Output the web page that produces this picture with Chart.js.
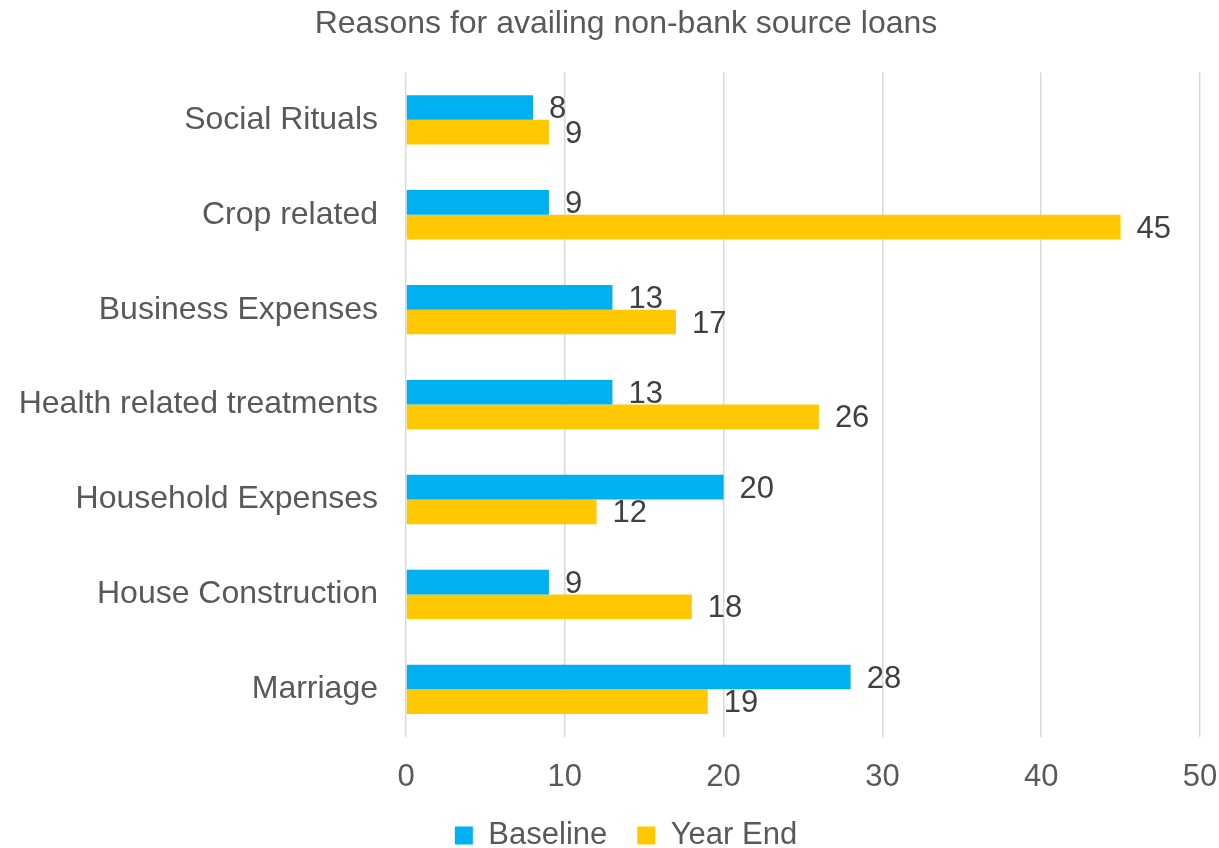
<!DOCTYPE html>
<html>
<head>
<meta charset="utf-8">
<script src="https://cdn.jsdelivr.net/npm/chart.js@4"></script>
<style>
  html, body { margin: 0; padding: 0; background: #fff; }
  #wrap { width: 1219px; height: 848px; }
</style>
</head>
<body>
<div id="wrap"><canvas id="chartReasons" width="1219" height="848"></canvas></div>
<script>
// Loan reasons, top to bottom
const reasons = [
  "Social Rituals",
  "Crop related",
  "Business Expenses",
  "Health related treatments",
  "Household Expenses",
  "House Construction",
  "Marriage",
];
const baseline = [8, 9, 13, 13, 20, 9, 28];
const yearEnd = [9, 45, 17, 26, 12, 18, 19];
const xTicks = [0, 10, 20, 30, 40, 50];

const FONT = "'Liberation Sans', Arial, sans-serif";

// value labels just past the end of each bar
const barLabels = {
  id: "barLabels",
  afterDatasetsDraw(chart) {
    const ctx = chart.ctx;
    ctx.save();
    ctx.font = "31px " + FONT;
    ctx.fillStyle = "#404040";
    ctx.textAlign = "left";
    ctx.textBaseline = "middle";
    chart.data.datasets.forEach((ds, i) => {
      chart.getDatasetMeta(i).data.forEach((bar, j) => {
        ctx.fillText(ds.data[j], bar.x + 16, bar.y + 2);
      });
    });
    ctx.restore();
  },
};

// category labels are wider than the y axis box; don't clip them
const wideLabels = {
  id: "wideLabels",
  afterLayout(chart) {
    chart.scales.y.left = 0;
  },
};

const dataReasons = {
  labels: reasons,
  datasets: [
    {
      label: "Baseline",
      data: baseline,
      backgroundColor: "#00B0F0",
      categoryPercentage: 0.52,
      barPercentage: 1.0,
    },
    {
      label: "Year End",
      data: yearEnd,
      backgroundColor: "#FFC800",
      categoryPercentage: 0.52,
      barPercentage: 1.0,
    },
  ],
};

const configReasons = {
  type: "bar",
  data: dataReasons,
  options: {
    indexAxis: "y",
    responsive: false,
    animation: false,
    layout: { padding: { left: 52, right: 19, top: 0, bottom: -13 } },
    scales: {
      x: {
        min: 0,
        max: 50,
        afterBuildTicks: (axis) => {
          axis.ticks = xTicks.map((v) => ({ value: v }));
        },
        afterFit: (axis) => {
          // let the last tick label hang past the plot edge
          axis.paddingRight = 0;
          axis.height -= 28;
        },
        grid: { color: "#D9D9D9", lineWidth: 1.5, drawTicks: false },
        border: { display: false },
        ticks: {
          color: "#595959",
          font: { family: FONT, size: 31 },
          padding: 22,
        },
      },
      y: {
        afterFit: (axis) => {
          axis.width = 354;
        },
        grid: { display: false, drawTicks: false },
        border: { display: false },
        ticks: {
          color: "#595959",
          font: { family: FONT, size: 32 },
          padding: 28,
        },
      },
    },
    plugins: {
      title: {
        display: true,
        text: "Reasons for availing non-bank source loans",
        color: "#595959",
        font: { family: FONT, size: 32, weight: "normal" },
        padding: { top: 5, bottom: 29 },
      },
      legend: {
        position: "bottom",
        labels: {
          color: "#595959",
          font: { family: FONT, size: 31 },
          boxWidth: 18,
          boxHeight: 18,
          padding: 30,
        },
      },
      tooltip: { enabled: false },
    },
  },
  plugins: [barLabels, wideLabels],
};

var chartReasons = new Chart(
  document.getElementById("chartReasons"),
  configReasons
);
</script>
</body>
</html>
